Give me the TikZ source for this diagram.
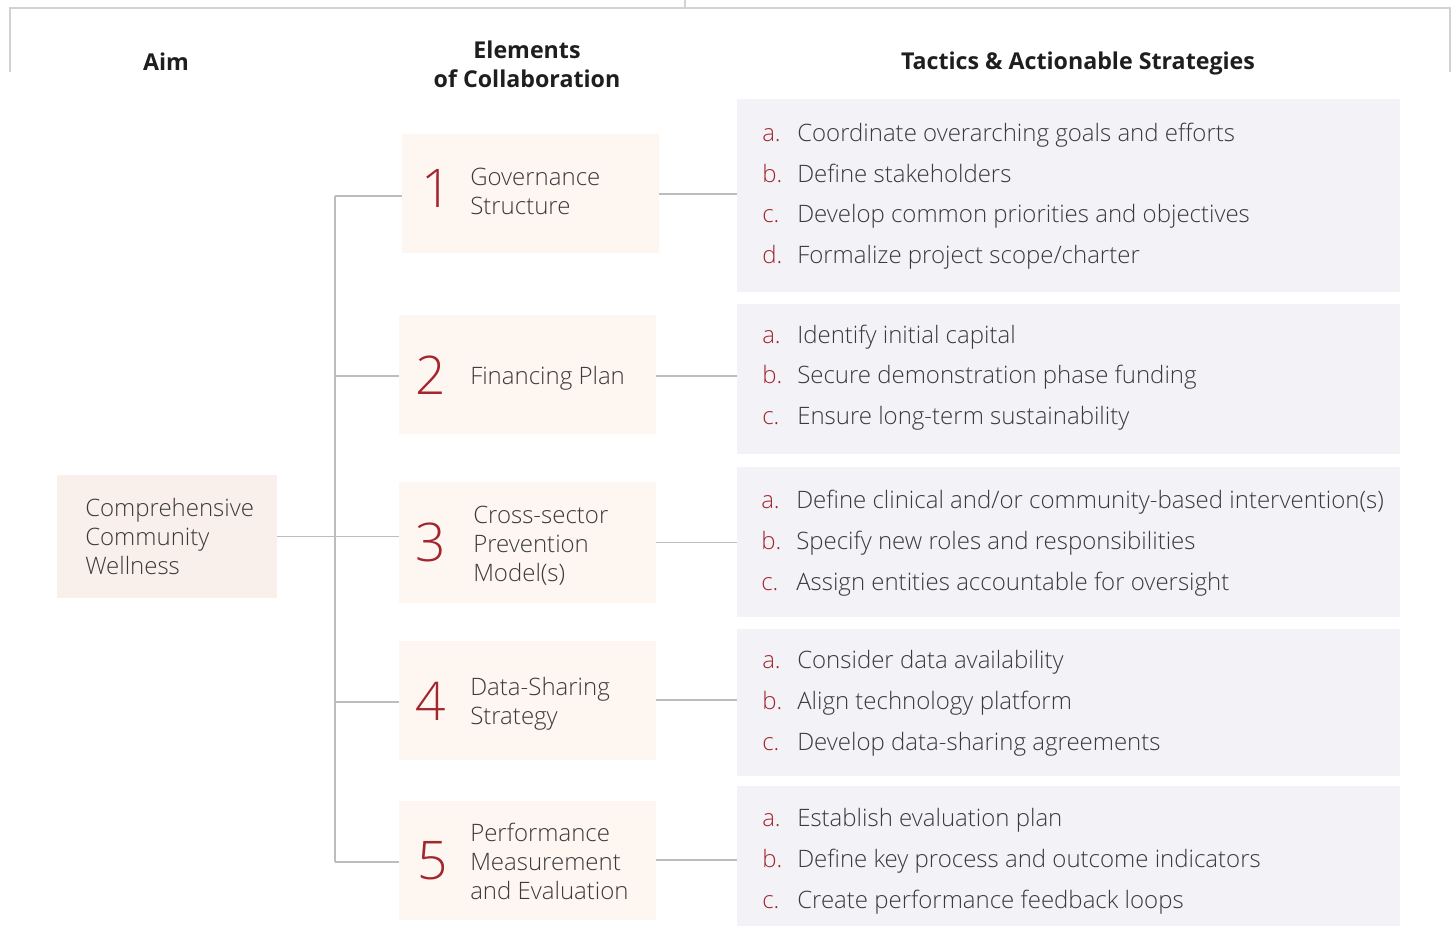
\documentclass[tikz,border=0pt]{standalone}
\usepackage{fontspec}
\setmainfont{Open Sans}
\IfFontExistsTF{Open Sans Light}{\newfontfamily\ltfont{Open Sans Light}}{\newfontfamily\ltfont{Open Sans}}
\IfFontExistsTF{Open Sans SemiBold}{\newfontfamily\hdfont{Open Sans SemiBold}\newcommand\hdweight{}}{\newfontfamily\hdfont{Open Sans}\newcommand\hdweight{\bfseries}}
\definecolor{aimfill}{HTML}{F9F0EC}
\definecolor{elfill}{HTML}{FDF6F1}
\definecolor{tacfill}{HTML}{F3F2F7}
\definecolor{linec}{HTML}{BDBDBD}
\definecolor{framec}{HTML}{D2D2D2}
\definecolor{redc}{HTML}{A3252E}
\definecolor{txtc}{HTML}{3A3A3A}
\definecolor{hdc}{HTML}{1E1E1E}
\tikzset{
  frame/.style={draw=framec, line width=1.5pt},
  conn/.style={draw=linec, line width=1pt},
  aimbox/.style={fill=aimfill, draw=none, inner sep=0pt},
  elbox/.style={fill=elfill, draw=none, inner sep=0pt},
  tacbox/.style={fill=tacfill, draw=none, inner sep=0pt},
  head/.style={font=\hdfont\hdweight\fontsize{17.4}{21.75}\selectfont, text=hdc, align=center, inner sep=0pt},
  numtxt/.style={font=\ltfont\fontsize{40}{40}\selectfont, text=redc, inner sep=0pt},
  eltxt/.style={font=\ltfont\fontsize{18}{21.75}\selectfont, text=txtc, align=left, inner sep=0pt, anchor=west},
  lettxt/.style={font=\ltfont\fontsize{18}{20}\selectfont, text=redc, inner sep=0pt, anchor=base west},
  tactxt/.style={font=\ltfont\fontsize{18}{20}\selectfont, text=txtc, inner sep=0pt, anchor=base west},
}
\begin{document}
\begin{tikzpicture}[x=0.75pt,y=-0.75pt]
\useasboundingbox (0,0) rectangle (1456,926);
% frame
\draw[frame] (10,72) -- (10,8) -- (1450,8) -- (1450,72);
\draw[frame] (685,0) -- (685,8);
% headers
\node[head] (h1) at (166,61.5) {Aim};
\node[head] (h2) at (527,64) {Elements\\of Collaboration};
\node[head] (h3) at (1078,63) {Tactics \& Actionable Strategies};
% aim box
\node[aimbox, minimum width=220*0.75pt, minimum height=123*0.75pt] (aim) at (167,536.5) {};
\node[eltxt] (aimt) at (85,536.5) {Comprehensive\\Community\\Wellness};
% element boxes
\node[elbox, minimum width=257*0.75pt, minimum height=119*0.75pt] (e1) at (530.5,193.5) {};
\node[elbox, minimum width=257*0.75pt, minimum height=119*0.75pt] (e2) at (527.5,374.5) {};
\node[elbox, minimum width=257*0.75pt, minimum height=121*0.75pt] (e3) at (527.5,542.5) {};
\node[elbox, minimum width=257*0.75pt, minimum height=119*0.75pt] (e4) at (527.5,700.5) {};
\node[elbox, minimum width=257*0.75pt, minimum height=119*0.75pt] (e5) at (527.5,860.5) {};
\node[numtxt] (n1) at (437,188) {1};
\node[numtxt] (n2) at (431,375) {2};
\node[numtxt] (n3) at (431,542) {3};
\node[numtxt] (n4) at (431,701) {4};
\node[numtxt] (n5) at (433,861) {5};
\node[eltxt] (t1) at (470,191.5) {Governance\\Structure};
\node[eltxt] (t2) at (470,378) {Financing Plan};
\node[eltxt] (t3) at (473,546) {Cross-sector\\Prevention\\Model(s)};
\node[eltxt] (t4) at (470,703.5) {Data-Sharing\\Strategy};
\node[eltxt] (t5) at (470,861.5) {Performance\\Measurement\\and Evaluation};
% tactic boxes
\node[tacbox, minimum width=663*0.75pt, minimum height=193*0.75pt] (p1) at (1068.5,195.5) {};
\node[tacbox, minimum width=663*0.75pt, minimum height=150*0.75pt] (p2) at (1068.5,379) {};
\node[tacbox, minimum width=663*0.75pt, minimum height=150*0.75pt] (p3) at (1068.5,542) {};
\node[tacbox, minimum width=663*0.75pt, minimum height=147*0.75pt] (p4) at (1068.5,702.5) {};
\node[tacbox, minimum width=663*0.75pt, minimum height=140*0.75pt] (p5) at (1068.5,856) {};
% tactic lines
\foreach \y/\l/\t [count=\i] in {
  141/a./Coordinate overarching goals and efforts,
  182/b./Define stakeholders,
  222/c./Develop common priorities and objectives,
  263/d./Formalize project scope\slash charter,
  343/a./Identify initial capital,
  383/b./Secure demonstration phase funding,
  424/c./Ensure long-term sustainability,
  668/a./Consider data availability,
  709/b./Align technology platform,
  750/c./Develop data-sharing agreements,
  826/a./Establish evaluation plan,
  867/b./Define key process and outcome indicators,
  908/c./Create performance feedback loops}{
  \node[lettxt] (la\i) at (762,\y) {\l};
  \node[tactxt] (ta\i) at (797,\y) {\t};
}
\foreach \y/\l/\t [count=\i] in {
  508/a./Define clinical and\slash or community-based intervention(s),
  549/b./Specify new roles and responsibilities,
  590/c./Assign entities accountable for oversight}{
  \node[lettxt] (lb\i) at (761,\y) {\l};
  \node[tactxt] (tb\i) at (796,\y) {\t};
}
% connectors
\coordinate (top) at (335,196);
\coordinate (bot) at (335,862);
\draw[conn] (top) -- (bot);
\draw[conn] (aim.east) -- (aim.east -| e3.west);
\draw[conn] (top) -- (e1.west |- top);
\draw[conn] (335,376) -- (e2.west |- 0,376);
\draw[conn] (335,702) -- (e4.west |- 0,702);
\draw[conn] (bot) -- (e5.west |- bot);
\draw[conn] (e1.east |- 0,194) -- (p1.west |- 0,194);
\draw[conn] (e2.east |- 0,376) -- (p2.west |- 0,376);
\draw[conn] (e3.east) -- (p3.west |- e3.east);
\draw[conn] (e4.east |- 0,700) -- (p4.west |- 0,700);
\draw[conn] (e5.east |- 0,860) -- (p5.west |- 0,860);
\end{tikzpicture}
\end{document}
